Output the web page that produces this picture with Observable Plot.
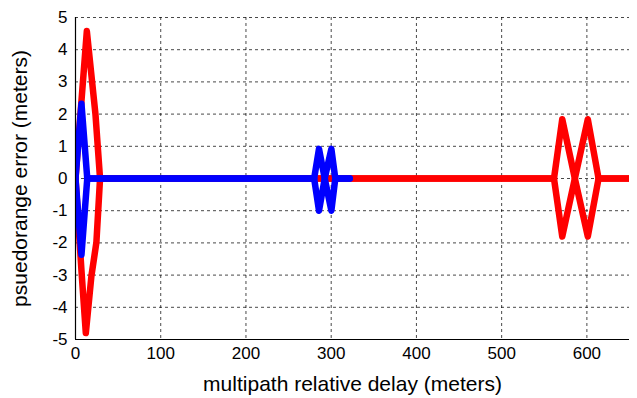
<!DOCTYPE html>
<html><head><meta charset="utf-8">
<script src="https://cdn.jsdelivr.net/npm/d3@7"></script>
<script src="https://cdn.jsdelivr.net/npm/@observablehq/plot@0.6"></script>
<style>body{margin:0;background:#fff}</style>
</head><body><div id="chart"></div>
<script>
// tick values
const xTicks = [0, 100, 200, 300, 400, 500, 600];
const yTicks = [-5, -4, -3, -2, -1, 0, 1, 2, 3, 4, 5];

// red series (upper / lower envelope), x in meters, y in meters
const redUpperX = [0, 13.3, 23.4, 28.8, 561.4, 571.1, 585.9, 601.1, 613.7, 650];
const redUpperY = [0, 4.58, 2.0, 0, 0, 1.84, 0, 1.84, 0, 0];
const redLowerX = [0, 7.4, 12.1, 18.7, 24.5, 28.8, 561.4, 571.1, 585.9, 601.1, 613.7, 650];
const redLowerY = [0, -3.02, -4.8, -3.02, -1.99, 0, 0, -1.8, 0, -1.8, 0, 0];

// blue series (upper / lower envelope)
const blueUpperX = [0, 7, 13.8, 280, 285.7, 292.4, 300.2, 304.8, 321.7];
const blueUpperY = [0, 2.32, 0, 0, 0.92, 0, 0.92, 0, 0];
const blueLowerX = [0, 7, 13.8, 280, 285.7, 292.4, 300.2, 304.8, 321.7];
const blueLowerY = [0, -2.37, 0, 0, -1.0, 0, -1.0, 0, 0];

const xLabel = "multipath relative delay (meters)";
const yLabel = "psuedorange error (meters)";

function zip(xs, ys, part) { return xs.map((x, i) => ({x, y: ys[i], part})); }
const redData = [...zip(redUpperX, redUpperY, "upper"), ...zip(redLowerX, redLowerY, "lower")];
const blueData = [...zip(blueUpperX, blueUpperY, "upper"), ...zip(blueLowerX, blueLowerY, "lower")];

const lineStyle = {x: "x", y: "y", z: "part", strokeWidth: 6.5, strokeLinejoin: "round", strokeLinecap: "round", clip: true};
const gridStyle = {stroke: "black", strokeOpacity: 0.9, strokeWidth: 0.8, strokeDasharray: "3,3"};
const fmt = d => String(d);

const chart = Plot.plot({
  width: 637,
  height: 398,
  marginLeft: 75,
  marginRight: 8,
  marginTop: 17,
  marginBottom: 59,
  style: {fontFamily: "'Liberation Sans', Arial, Helvetica, sans-serif", fontSize: "17px", color: "black", background: "white"},
  x: {domain: [0, 650], label: null},
  y: {domain: [-5, 5], label: null},
  marks: [
    Plot.gridX(xTicks, gridStyle),
    Plot.gridY(yTicks, gridStyle),
    Plot.line(redData, {...lineStyle, stroke: "#ff0000"}),
    Plot.line(blueData, {...lineStyle, stroke: "#0000ff"}),
    Plot.ruleX([0], {stroke: "black", strokeWidth: 1.2}),
    Plot.ruleY([-5], {stroke: "black", strokeWidth: 1.2}),
    Plot.axisX(xTicks, {tickSize: 0, tickPadding: 7, label: null, fontSize: 17, tickFormat: fmt}),
    Plot.axisY(yTicks, {tickSize: 0, tickPadding: 8, label: null, fontSize: 17, tickFormat: fmt}),
    Plot.text([xLabel], {frameAnchor: "bottom", lineAnchor: "middle", dy: 45, fontSize: 21, fill: "black"}),
    Plot.text([yLabel], {frameAnchor: "left", textAnchor: "middle", lineAnchor: "middle", dx: -55, rotate: -90, fontSize: 21, fill: "black"})
  ]
});
document.getElementById("chart").appendChild(chart);
</script></body></html>
